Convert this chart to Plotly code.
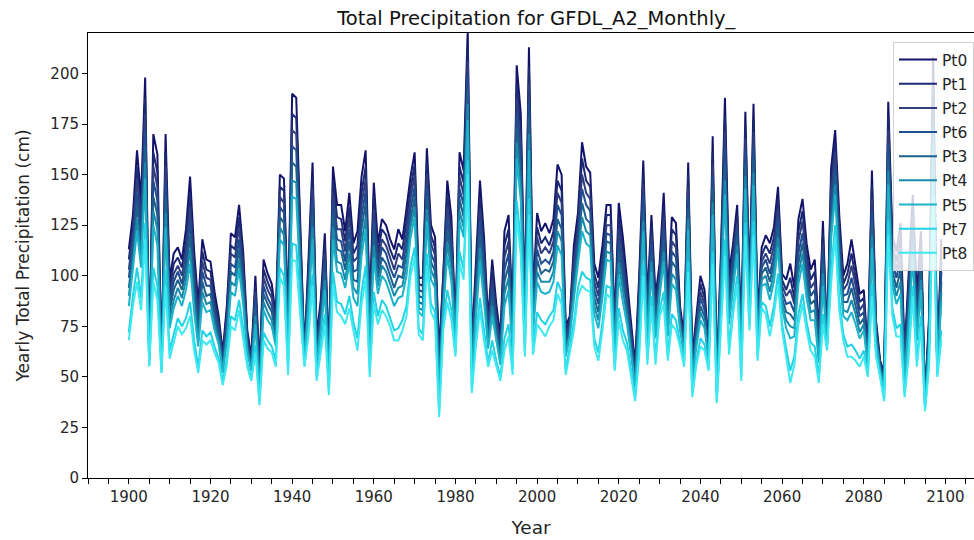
import plotly.graph_objects as go

years = list(range(1900, 2100))
series_names = ["Pt0", "Pt1", "Pt2", "Pt6", "Pt3", "Pt4", "Pt5", "Pt7", "Pt8"]
series_colors = ["#13136b", "#1b2a72", "#303e7e", "#1f4e90", "#1d608c",
                 "#1a8aab", "#1eb2c9", "#22d2e5", "#3de8f0"]

pt0 = [113,130,162,138,198,62,170,160,56,170,
       98,111,114,108,123,149,112,86,118,108,
       107,92,80,62,85,121,119,135,112,73,
       60,100,55,108,101,96,80,150,148,80,
       190,188,125,62,108,156,70,88,121,60,
       154,135,135,122,141,116,122,149,162,85,
       146,116,128,125,118,113,123,118,133,149,
       161,99,99,163,125,119,62,100,147,129,
       75,161,152,222,65,105,147,119,78,108,
       86,70,122,130,80,204,180,85,213,90,
       131,122,126,121,128,155,150,75,80,115,
       131,166,154,151,106,99,115,135,135,77,
       136,119,98,78,56,100,157,88,130,90,
       106,141,90,129,126,85,70,156,60,80,
       100,93,65,169,50,110,188,101,116,135,
       70,181,95,185,80,114,120,116,124,144,
       101,98,106,94,128,138,116,103,108,72,
       127,68,153,172,130,100,106,118,105,91,
       93,62,152,78,58,52,186,120,112,126,
       62,100,140,90,122,40,80,208,55,118]

pt1 = [108,125,154,131,188,61,161,151,56,161,
       93,106,109,104,117,141,106,82,112,103,
       102,88,77,60,82,115,113,129,107,71,
       59,95,53,103,97,92,77,144,142,77,
       180,178,120,61,103,149,67,85,116,58,
       147,129,128,117,134,111,115,141,154,81,
       139,111,123,120,113,108,116,113,127,143,
       155,96,95,156,120,114,58,97,140,123,
       73,154,146,213,62,100,139,113,75,103,
       82,67,115,123,77,195,172,82,203,87,
       124,116,119,115,122,147,142,72,78,110,
       126,158,147,144,101,94,110,130,130,74,
       129,113,94,75,54,95,150,84,125,86,
       103,134,86,123,120,82,68,150,58,77,
       96,89,64,161,48,106,179,96,112,130,
       67,174,92,177,77,110,115,111,119,138,
       98,93,99,89,122,132,111,98,102,69,
       121,67,146,166,124,96,101,111,99,87,
       89,61,145,76,57,50,178,115,107,119,
       59,95,134,86,116,39,77,200,54,112]

pt2 = [103,120,148,126,180,60,154,144,55,154,
       89,101,105,100,112,134,101,79,107,99,
       98,85,75,58,79,111,109,124,103,69,
       57,92,51,99,93,89,75,139,136,74,
       172,170,115,60,100,143,65,82,111,56,
       141,123,123,112,129,107,109,135,148,77,
       133,107,118,115,109,103,111,108,121,138,
       150,93,92,150,116,110,55,94,134,118,
       72,149,140,206,60,96,133,108,73,98,
       79,65,109,117,74,188,165,80,195,84,
       119,111,114,111,117,141,136,70,76,106,
       122,150,141,138,97,90,106,125,125,72,
       123,108,90,72,52,91,145,81,120,83,
       100,129,83,117,114,81,67,144,56,75,
       92,86,62,155,47,102,171,92,108,126,
       65,168,90,171,75,107,111,106,115,133,
       95,90,93,86,117,127,107,94,97,67,
       116,67,141,161,120,93,96,105,95,83,
       86,59,138,74,56,49,172,111,103,114,
       57,91,129,82,112,38,75,193,54,107]

pt6 = [99,116,141,120,172,60,147,137,55,146,
       86,97,102,96,107,127,96,75,102,95,
       95,82,73,57,76,106,104,118,99,67,
       56,88,49,95,89,85,72,134,131,71,
       164,162,111,60,96,137,63,80,107,54,
       135,118,117,107,123,102,103,129,142,74,
       127,103,114,111,104,99,105,104,116,133,
       144,90,89,144,111,106,52,91,128,113,
       70,143,135,199,58,92,127,103,71,94,
       76,63,103,111,71,180,158,77,186,81,
       113,106,108,106,112,135,130,67,75,102,
       118,143,135,132,93,86,102,121,120,69,
       117,103,87,69,50,87,139,78,116,79,
       98,123,80,112,109,79,65,139,54,72,
       89,83,61,149,46,98,163,88,105,123,
       63,162,88,164,73,104,108,101,110,129,
       92,86,87,82,111,121,102,90,93,64,
       111,66,135,155,115,90,91,99,90,80,
       82,58,132,72,55,48,165,107,99,108,
       55,87,124,79,107,38,72,186,53,102]

pt3 = [94,111,135,115,164,59,139,130,54,139,
       82,93,98,93,102,120,91,72,97,90,
       91,79,70,55,73,102,100,113,94,65,
       55,84,47,91,86,82,70,129,126,68,
       156,154,106,59,92,130,61,77,102,52,
       130,113,112,103,117,98,97,123,136,70,
       121,99,109,106,100,94,100,99,111,128,
       139,87,86,139,107,102,49,89,122,108,
       69,138,129,192,55,88,120,98,68,89,
       73,61,97,105,68,173,151,75,178,78,
       108,101,103,102,107,128,123,65,73,97,
       114,136,128,126,89,82,97,117,116,67,
       112,98,83,66,48,83,133,75,111,76,
       95,118,77,107,104,77,64,133,52,70,
       85,80,60,143,45,95,155,84,101,119,
       61,155,86,158,71,101,104,97,106,124,
       89,82,81,78,106,116,98,86,88,62,
       106,66,129,150,110,87,87,94,85,76,
       79,57,126,70,55,46,158,103,94,103,
       53,83,119,75,102,37,70,179,53,97]

pt4 = [90,107,128,109,156,58,132,123,54,131,
       78,88,94,89,98,113,87,68,92,86,
       87,76,68,54,70,97,95,108,90,64,
       54,80,45,87,82,78,67,124,120,65,
       147,146,102,58,88,124,59,75,98,50,
       124,107,106,98,111,94,91,116,129,67,
       115,95,105,102,96,90,94,95,105,124,
       134,84,83,133,103,98,45,86,116,103,
       67,132,124,185,53,84,114,93,66,85,
       70,59,91,99,65,166,144,72,170,75,
       102,97,97,97,102,122,117,63,71,93,
       110,129,122,120,85,78,93,112,111,65,
       106,93,80,63,47,79,127,71,107,72,
       93,112,73,101,98,75,62,128,50,68,
       82,77,59,136,43,91,147,80,98,115,
       59,149,84,151,69,98,100,92,102,119,
       86,78,75,74,101,111,94,82,83,59,
       101,65,123,145,106,83,82,88,81,72,
       76,56,120,69,54,45,152,99,90,97,
       51,79,114,72,98,36,67,173,52,92]

pt5 = [85,102,122,104,148,58,125,115,54,124,
       74,84,90,85,93,106,82,65,87,82,
       83,73,66,52,67,92,90,103,86,62,
       53,76,43,83,78,75,65,118,115,62,
       139,138,97,58,84,118,56,72,93,48,
       118,102,101,94,106,89,85,110,123,63,
       109,91,100,97,91,85,89,90,100,119,
       129,82,80,127,98,94,42,83,110,97,
       66,127,119,177,51,80,107,87,64,80,
       67,56,85,93,62,158,137,70,162,72,
       97,92,91,92,97,115,110,60,70,89,
       106,122,116,114,81,74,89,108,107,62,
       100,87,76,61,45,75,122,68,102,69,
       90,107,70,96,93,73,61,123,48,65,
       78,74,58,130,42,87,140,76,94,111,
       56,143,81,145,66,95,96,88,97,114,
       84,74,69,70,96,106,89,78,78,57,
       95,65,118,140,101,80,78,82,76,69,
       73,55,114,67,53,43,145,95,86,91,
       48,75,109,68,93,36,65,166,52,87]

pt7 = [72,90,104,89,126,56,104,95,52,103,
       63,71,79,75,79,87,68,55,73,70,
       72,65,59,48,59,80,78,88,74,57,
       49,66,38,72,68,65,58,104,100,54,
       116,115,85,56,74,101,50,65,81,43,
       102,87,86,81,90,77,69,92,105,54,
       92,80,88,85,79,73,74,78,85,105,
       114,74,71,111,86,82,33,76,93,83,
       62,112,103,157,44,69,89,73,57,68,
       58,50,69,76,54,137,117,63,138,64,
       82,78,76,80,83,97,92,53,65,77,
       94,102,99,98,69,62,77,95,94,55,
       84,73,67,53,40,64,106,59,90,59,
       83,92,61,81,78,67,57,107,42,58,
       69,66,54,112,38,77,118,65,85,100,
       50,126,75,127,60,87,85,75,85,101,
       76,64,53,60,81,91,77,67,65,50,
       81,64,102,125,88,71,65,66,63,59,
       63,51,96,62,51,39,127,84,74,76,
       42,64,95,59,80,34,58,147,51,73]

pt8 = [68,85,97,83,118,55,97,88,52,95,
       59,67,75,71,74,80,63,52,68,66,
       68,62,57,46,56,75,73,83,70,55,
       48,62,36,68,64,62,55,99,95,51,
       108,107,80,55,70,95,48,62,76,41,
       96,82,80,76,84,73,63,86,99,50,
       86,76,83,80,75,68,68,73,80,100,
       109,71,68,105,82,78,30,73,87,78,
       60,106,98,150,42,65,83,68,55,63,
       55,48,63,70,51,130,110,60,130,61,
       76,73,70,75,78,91,86,51,63,73,
       90,95,93,92,65,58,73,91,89,53,
       78,68,63,50,38,60,100,56,85,56,
       80,86,58,76,73,65,55,102,40,56,
       65,63,53,106,37,73,110,61,81,96,
       48,120,73,120,58,84,81,70,81,96,
       73,60,47,56,76,86,73,63,60,47,
       76,63,96,120,83,68,60,60,58,55,
       60,50,90,60,50,38,120,80,70,70,
       40,60,90,55,75,33,55,140,50,68]

series_values = [pt0, pt1, pt2, pt6, pt3, pt4, pt5, pt7, pt8]

fig = go.Figure()
for name, vals, col in zip(series_names, series_values, series_colors):
    fig.add_trace(go.Scatter(x=years, y=vals, mode="lines", name=name,
                             legendgroup=name,
                             line=dict(color=col, width=2)))

fig.update_layout(
    width=974, height=540,
    margin=dict(l=88, r=0, t=33, b=62),
    paper_bgcolor="white", plot_bgcolor="white",
    font=dict(family="DejaVu Sans", size=15, color="#262626"),
    title=dict(text="Total Precipitation for GFDL_A2_Monthly_",
               x=0.506, xref="paper", xanchor="center",
               y=1 - 18 / 540, yref="container", yanchor="middle",
               font=dict(size=19.5, color="#111111")),
    showlegend=True,
    legend=dict(x=1, xanchor="right", y=1 - 9 / 445, yanchor="top",
                bgcolor="rgba(255,255,255,0.8)", bordercolor="#d0d0d0",
                borderwidth=1, tracegroupgap=1, traceorder="grouped",
                itemwidth=38,
                font=dict(size=15.5, color="#262626")),
)

fig.update_xaxes(range=[1890, 2107], tickmode="linear", tick0=1900, dtick=20,
                 ticks="outside", ticklen=5, tickwidth=1, tickcolor="black",
                 showline=True, linecolor="black", linewidth=1, mirror=True,
                 showgrid=False, zeroline=False,
                 tickfont=dict(size=15),
                 minor=dict(tick0=1900, dtick=5, ticks="outside", ticklen=5,
                            tickwidth=1, tickcolor="black", showgrid=False),
                 title=dict(text="Year", font=dict(size=18.5), standoff=16))
fig.update_yaxes(range=[0, 220], tickmode="linear", tick0=0, dtick=25,
                 ticks="outside", ticklen=5, tickwidth=1, tickcolor="black",
                 showline=True, linecolor="black", linewidth=1,
                 showgrid=False, zeroline=False,
                 tickfont=dict(size=15),
                 title=dict(text="Yearly Total Precipitation (cm)",
                            font=dict(size=17), standoff=16))

fig.write_html("out.html")
